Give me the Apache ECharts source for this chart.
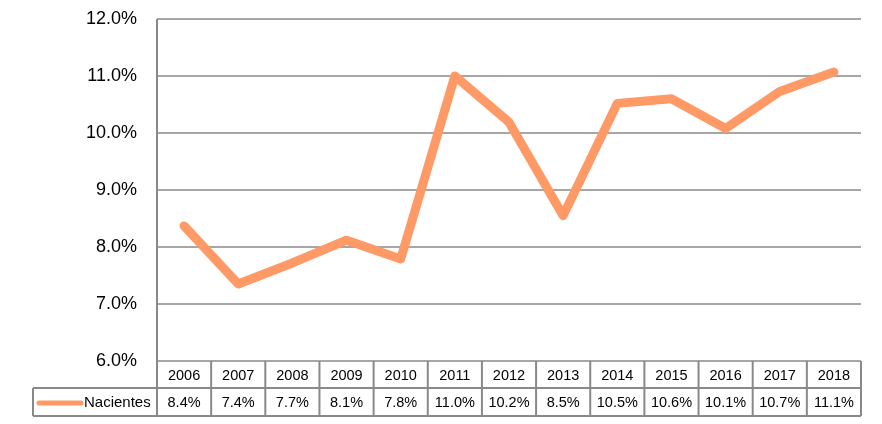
<!DOCTYPE html>
<html><head><meta charset="utf-8">
<script src="https://cdn.jsdelivr.net/npm/echarts@6/dist/echarts.min.js"></script>
<style>html,body{margin:0;padding:0;background:#fff}#c{width:882px;height:424px}</style>
</head><body><div id="c"></div>
<script>
const years = ['2006','2007','2008','2009','2010','2011','2012','2013','2014','2015','2016','2017','2018'];
const nacientes = [8.37, 7.35, 7.72, 8.12, 7.79, 11.0, 10.19, 8.55, 10.52, 10.6, 10.08, 10.73, 11.07];
const tableLabels = ['8.4%','7.4%','7.7%','8.1%','7.8%','11.0%','10.2%','8.5%','10.5%','10.6%','10.1%','10.7%','11.1%'];
const seriesName = 'Nacientes';
const yTicks = {min: 6, max: 12, interval: 1};

const FONT = '"Liberation Sans", Arial, sans-serif';
const GRAY = '#898989';
const LINE = '#FF9966';
const chart = echarts.init(document.getElementById('c'), null, {renderer: 'canvas'});
const grid = {left: 157, right: 21, top: 19, bottom: 63};
chart.setOption({
  animation: false,
  grid: grid,
  xAxis: {type: 'category', data: years, boundaryGap: true,
    axisLine: {show: false}, axisTick: {show: false}, axisLabel: {show: false}, splitLine: {show: false}},
  yAxis: {type: 'value', min: yTicks.min, max: yTicks.max, interval: yTicks.interval,
    axisLine: {show: false}, axisTick: {show: false},
    axisLabel: {formatter: v => v.toFixed(1) + '%', fontSize: 18, color: '#000', fontFamily: FONT, margin: 20},
    splitLine: {show: true, lineStyle: {color: GRAY, width: 1.5}}},
  series: [{name: seriesName, type: 'line', data: nacientes, symbol: 'none',
    lineStyle: {color: LINE, width: 9, cap: 'round', join: 'round'}}]
});

// Data table built from the axis scale
const x0 = chart.convertToPixel({xAxisIndex: 0}, 0);
const x1 = chart.convertToPixel({xAxisIndex: 0}, 1);
const band = x1 - x0;
const left = x0 - band / 2;
const right = left + band * years.length;
const yBase = chart.convertToPixel({yAxisIndex: 0}, yTicks.min);
const yTop = chart.convertToPixel({yAxisIndex: 0}, yTicks.max);
const r1 = yBase + 27, r2 = r1 + 28;
const legLeft = 33;
const els = [];
const ln = (a, b, c, d) => els.push({type: 'line', shape: {x1: a, y1: b, x2: c, y2: d}, style: {stroke: GRAY, lineWidth: 2}, z: 10});
ln(left, yTop, left, r2);
for (let i = 1; i <= years.length; i++) ln(left + band * i, yBase, left + band * i, r2);
ln(left, r1, right, r1);
ln(legLeft, r1, legLeft, r2);
ln(legLeft, r1, left, r1);
ln(legLeft, r2, right, r2);
years.forEach((y, i) => {
  const cx = chart.convertToPixel({xAxisIndex: 0}, i);
  els.push({type: 'text', z: 11, style: {text: y, x: cx, y: (yBase + r1) / 2 + 1, align: 'center', verticalAlign: 'middle', font: '14.5px ' + FONT, fill: '#000'}});
  els.push({type: 'text', z: 11, style: {text: tableLabels[i], x: cx, y: (r1 + r2) / 2 + 1, align: 'center', verticalAlign: 'middle', font: '14.5px ' + FONT, fill: '#000'}});
});
els.push({type: 'line', z: 11, shape: {x1: 39, y1: (r1 + r2) / 2 + 1, x2: 81, y2: (r1 + r2) / 2 + 1}, style: {stroke: LINE, lineWidth: 5, lineCap: 'round'}});
els.push({type: 'text', z: 11, style: {text: seriesName, x: 84, y: (r1 + r2) / 2 + 1, align: 'left', verticalAlign: 'middle', font: '15px ' + FONT, fill: '#000'}});
chart.setOption({graphic: {elements: els}});
</script></body></html>
